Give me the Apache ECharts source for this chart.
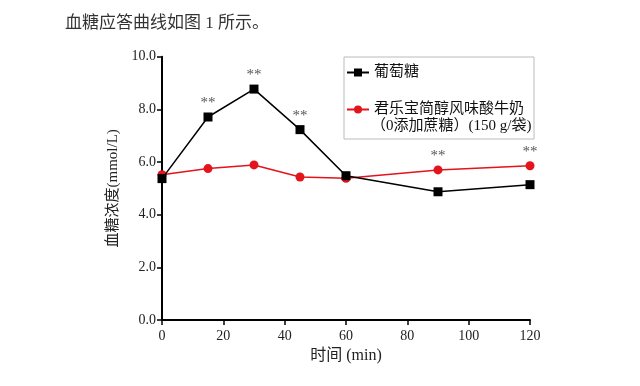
<!DOCTYPE html>
<html><head><meta charset="utf-8">
<script src="https://cdn.jsdelivr.net/npm/echarts@6/dist/echarts.min.js"></script>
<style>html,body{margin:0;padding:0;background:#fff}#c{width:640px;height:386px}</style>
</head><body><div id="c"></div>
<script>
var times = [0, 15, 30, 45, 60, 90, 120];
var glucose = [5.37, 7.71, 8.77, 7.23, 5.48, 4.87, 5.14];
var yogurt = [5.52, 5.75, 5.89, 5.43, 5.38, 5.70, 5.86];
var glucoseSig = ['', '**', '**', '**', '', '', ''];
var yogurtSig = ['', '', '', '', '', '**', '**'];
var xTicks = [0, 20, 40, 60, 80, 100, 120];
var yTicks = [0, 2, 4, 6, 8, 10];
var seriesNames = ['葡萄糖', '君乐宝简醇风味酸牛奶'];
var legendLine2 = '（0添加蔗糖）(150 g/袋)';
var caption = '血糖应答曲线如图 1 所示。';

var FONT = '"Liberation Serif", "Noto Sans CJK SC", serif';

function build(vals, sig) {
  return times.map(function (t, i) {
    var item = { value: [t, vals[i]] };
    if (sig[i]) {
      item.label = { show: true, formatter: sig[i] };
    }
    return item;
  });
}

var chart = echarts.init(document.getElementById('c'));
chart.setOption({
  animation: false,
  backgroundColor: '#fff',
  title: {
    text: caption, left: 60, top: 10,
    textStyle: { fontFamily: FONT, fontSize: 17, fontWeight: 'normal', color: '#333' }
  },
  grid: { left: 162, right: 110, top: 56.7, bottom: 66 },
  legend: {
    orient: 'vertical', left: 344, top: 57,
    padding: [8, 10, 22, 2],
    borderColor: '#bbb', borderWidth: 1,
    itemGap: 22, itemWidth: 22, itemHeight: 10,
    textStyle: { fontFamily: FONT, fontSize: 15, color: '#111' },
    data: seriesNames
  },
  graphic: [{
    type: 'text', left: 371, top: 119,
    style: { text: legendLine2, font: '15px ' + FONT, fill: '#111' }
  }],
  xAxis: {
    type: 'value', min: 0, max: 120, interval: 20,
    name: '时间 (min)', nameLocation: 'middle', nameGap: 28,
    nameTextStyle: { fontFamily: FONT, fontSize: 16, color: '#222' },
    axisLine: { show: true, onZero: false, lineStyle: { color: '#000', width: 2 } },
    axisTick: { show: true, inside: false, length: 5, lineStyle: { color: '#000', width: 1.5 } },
    axisLabel: { fontFamily: FONT, fontSize: 14, color: '#222', margin: 9 },
    splitLine: { show: false }
  },
  yAxis: {
    type: 'value', min: 0, max: 10, interval: 2,
    name: '血糖浓度(mmol/L)', nameLocation: 'middle', nameGap: 38, nameRotate: 90,
    nameTextStyle: { fontFamily: FONT, fontSize: 15, color: '#222' },
    axisLine: { show: true, lineStyle: { color: '#000', width: 2 } },
    axisTick: { show: true, inside: false, length: 5, lineStyle: { color: '#000', width: 1.5 } },
    axisLabel: { fontFamily: FONT, fontSize: 14, color: '#222', margin: 6,
      formatter: function (v) { return v.toFixed(1); } },
    splitLine: { show: false }
  },
  series: [{
    name: seriesNames[0], type: 'line',
    data: build(glucose, glucoseSig),
    symbol: 'rect', symbolSize: 9,
    lineStyle: { color: '#000', width: 1.5 },
    itemStyle: { color: '#000' },
    label: { show: false, position: 'top', distance: 2, fontFamily: FONT, fontSize: 15, color: '#555' },
    z: 3
  }, {
    name: seriesNames[1], type: 'line',
    data: build(yogurt, yogurtSig),
    symbol: 'circle', symbolSize: 9,
    lineStyle: { color: '#e3141c', width: 1.5 },
    itemStyle: { color: '#e3141c' },
    label: { show: false, position: 'top', distance: 2, fontFamily: FONT, fontSize: 15, color: '#555' },
    z: 2
  }]
});
</script></body></html>
